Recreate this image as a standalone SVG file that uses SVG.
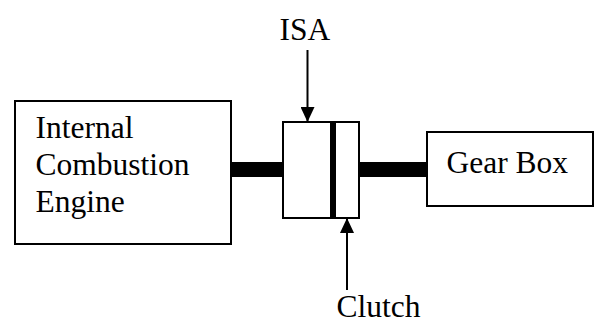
<svg xmlns="http://www.w3.org/2000/svg" width="594" height="322" viewBox="0 0 594 322">
<defs>
<style>
.box{fill:#fff;stroke:#000;stroke-width:2}
.shaft{fill:#000}
.lbl{font-family:"Liberation Serif","Times New Roman",serif;font-size:31.5px;fill:#000}
.arr{stroke:#000;stroke-width:2;fill:none}
</style>
<marker id="ah" viewBox="0 0 15 14" refX="15" refY="7" markerWidth="15" markerHeight="14" markerUnits="userSpaceOnUse" orient="auto">
<path d="M0,0 L15,7 L0,14 Z" fill="#000"/>
</marker>
</defs>
<rect width="594" height="322" fill="#fff"/>
<g id="connectors">
<rect class="shaft" x="232" y="162" width="50" height="15"/>
<rect class="shaft" x="359" y="162" width="68" height="15"/>
<line class="arr" x1="307.5" y1="50" x2="307.5" y2="122" marker-end="url(#ah)"/>
<line class="arr" x1="347" y1="290" x2="347" y2="218" marker-end="url(#ah)"/>
</g>
<g id="engine">
<rect class="box" x="15" y="101" width="216" height="143"/>
<text class="lbl" x="35.5" y="138">Internal</text>
<text class="lbl" x="35.5" y="175">Combustion</text>
<text class="lbl" x="35.5" y="212">Engine</text>
</g>
<g id="isa">
<rect class="box" x="283" y="122" width="48" height="96"/>
<rect class="shaft" x="330.5" y="121" width="5" height="98"/>
</g>
<g id="clutch">
<rect class="box" x="335" y="122" width="24" height="96"/>
</g>
<g id="gearbox">
<rect class="box" x="427" y="132" width="166" height="74"/>
<text class="lbl" x="446.5" y="172.5">Gear Box</text>
</g>
<g id="labels">
<text class="lbl" x="279.5" y="40">ISA</text>
<text class="lbl" x="336.5" y="316.5">Clutch</text>
</g>
</svg>
